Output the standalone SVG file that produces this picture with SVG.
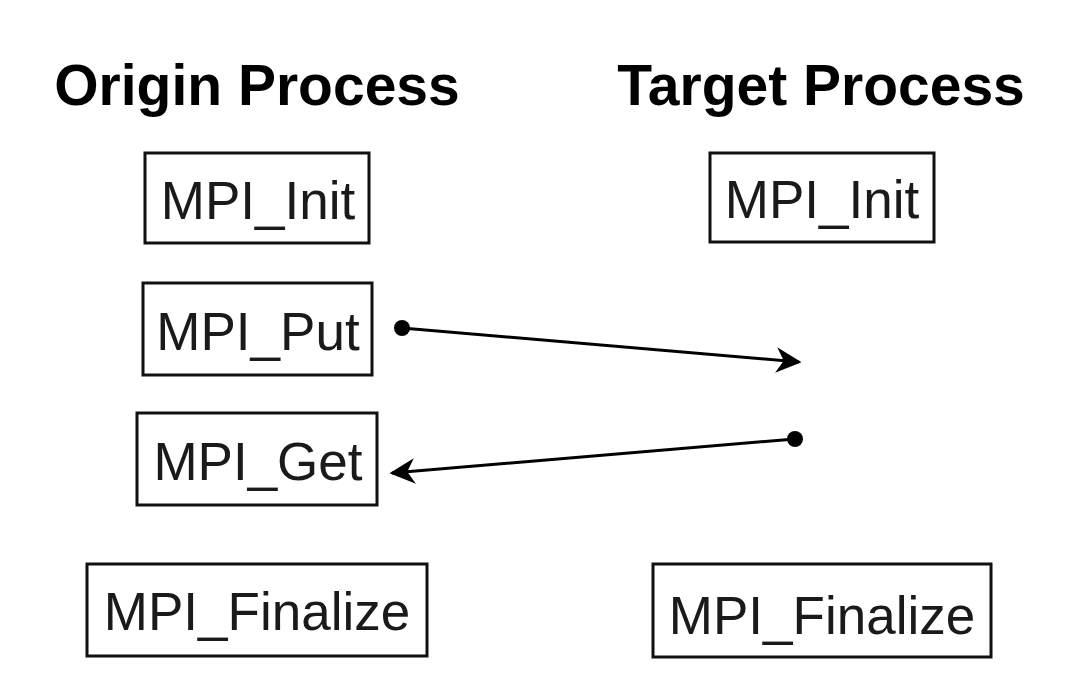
<svg xmlns="http://www.w3.org/2000/svg" width="1066" height="700" viewBox="0 0 1066 700">
<style>
.title{font-family:"Liberation Sans",Arial,sans-serif;font-weight:bold;font-size:57px;fill:#000;text-anchor:middle}
.box{fill:#fff;stroke:#111;stroke-width:3}
.lbl{font-family:"Liberation Sans",Arial,sans-serif;font-size:53px;fill:#1a1a1a;text-anchor:middle}
.conn{stroke:#000;stroke-width:3;fill:none}
</style>
<defs>
<marker id="arrow" viewBox="0 0 10 10" refX="9" refY="5" markerWidth="8.5" markerHeight="8.5" markerUnits="strokeWidth" orient="auto">
<path d="M0,0 L10,5 L0,10 L3,5 Z" fill="#000"/>
</marker>
</defs>
<rect width="1066" height="700" fill="#fff"/>
<text class="title" x="257" y="105">Origin Process</text>
<text class="title" x="821" y="105">Target Process</text>
<g id="origin-init"><rect class="box" x="145" y="153" width="224" height="90"/><text class="lbl" x="258" y="219">MPI_Init</text></g>
<g id="origin-put"><rect class="box" x="143" y="283" width="229" height="92"/><text class="lbl" x="258" y="350">MPI_Put</text></g>
<g id="origin-get"><rect class="box" x="137" y="413" width="240" height="92"/><text class="lbl" x="258" y="480">MPI_Get</text></g>
<g id="origin-finalize"><rect class="box" x="87" y="564" width="340" height="92"/><text class="lbl" x="257" y="630">MPI_Finalize</text></g>
<g id="target-init"><rect class="box" x="710" y="153" width="224" height="89"/><text class="lbl" x="822" y="218">MPI_Init</text></g>
<g id="target-finalize"><rect class="box" x="653" y="564" width="338" height="93"/><text class="lbl" x="822" y="634">MPI_Finalize</text></g>
<g id="connectors">
<circle cx="402" cy="328" r="8" fill="#000"/>
<line class="conn" x1="402" y1="328" x2="799" y2="362" marker-end="url(#arrow)"/>
<circle cx="795" cy="439" r="8" fill="#000"/>
<line class="conn" x1="795" y1="439" x2="392" y2="473" marker-end="url(#arrow)"/>
</g>
</svg>
